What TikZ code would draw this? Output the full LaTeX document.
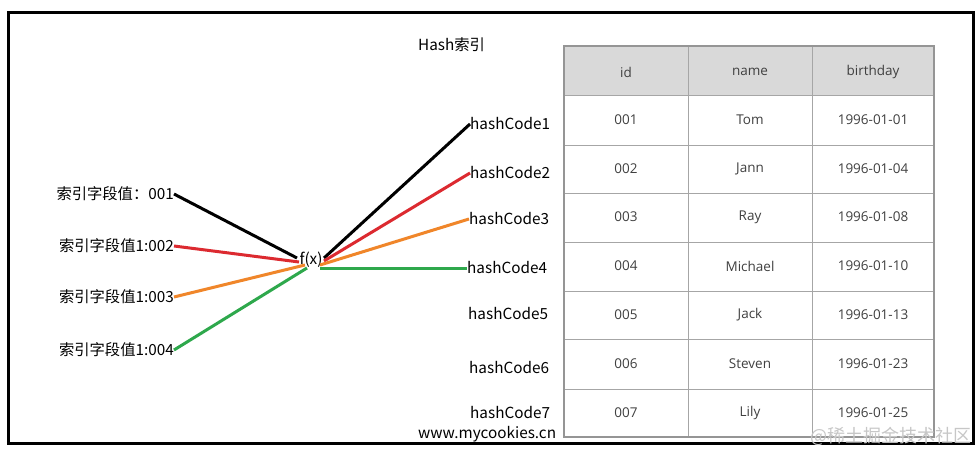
\documentclass[tikz,border=0pt]{standalone}
\usepackage{fontspec}
\newfontfamily\cjk{Noto Sans CJK SC}
\newfontfamily\tbl{Open Sans}
\definecolor{lred}{HTML}{DC2A30}
\definecolor{lorange}{HTML}{F0862A}
\definecolor{lgreen}{HTML}{2EA84C}
\definecolor{hdrgray}{HTML}{D9D9D9}
\definecolor{gridgray}{HTML}{A6A6A6}
\definecolor{celltxt}{HTML}{404040}
\tikzset{
  lbl/.style={inner sep=0pt, font=\cjk\fontsize{15.3}{18}\selectfont},
  cell/.style={inner sep=0pt, text=celltxt, font=\tbl\fontsize{13.5}{16}\selectfont},
  conn/.style={line width=3pt},
  grid/.style={draw=gridgray, line width=1pt},
}
\begin{document}
\begin{tikzpicture}[x=1pt,y=-1pt]
\useasboundingbox (0,0) rectangle (980,452);
\fill[white] (0,0) rectangle (980,452);
\draw[line width=3pt] (8.5,13) rectangle (973.5,443.5);

% table
\fill[hdrgray] (564,46) rectangle (934,95);
\foreach \y in {95,145,193,242,291,339,389}
  \draw[grid] (564,\y) -- (934,\y);
\draw[grid] (688,46) -- (688,437);
\draw[grid] (812,46) -- (812,437);
\draw[draw=gridgray!90!black, line width=1.8pt] (564,46) rectangle (934,437);

\node[cell] (h1) at (626,72) {id};
\node[cell] (h2) at (750,72) {name};
\node[cell] (h3) at (873,72) {birthday};
\foreach \i/\y/\n/\d in {1/120/Tom/1996-01-01, 2/169/Jann/1996-01-04, 3/217/Ray/1996-01-08, 4/266/Michael/1996-01-10, 5/315/Jack/1996-01-13, 6/364/Steven/1996-01-23, 7/413/Lily/1996-01-25}{
  \node[cell] (id\i) at (626,\y) {00\i};
  \node[cell] (nm\i) at (750,\y) {\n};
  \node[cell] (bd\i) at (873,\y) {\d};
}

% titles
\node[lbl, anchor=west] (title) at (418,45) {Hash索引};
\node[lbl, anchor=west] (site) at (418,434) {www.mycookies.cn};
\node[lbl, anchor=east, text=black!22, font=\cjk\fontsize{18}{20}\selectfont] (wm) at (972,436) {@稀土掘金技术社区};

% left keys
\node[lbl, anchor=east] (k1) at (174,194) {索引字段值：001};
\node[lbl, anchor=east] (k2) at (174,246) {索引字段值1:002};
\node[lbl, anchor=east] (k3) at (174,297) {索引字段值1:003};
\node[lbl, anchor=east] (k4) at (174,350) {索引字段值1:004};

% function
\node[lbl] (fx) at (311,260) {f(x)};
\coordinate (i1) at (297,258);
\coordinate (i2) at (299,262);
\coordinate (i3) at (305,265);
\coordinate (i4) at (307,268);
\coordinate (o1) at (324,258);
\coordinate (o2) at (324,261);
\coordinate (o3) at (320,265);
\coordinate (o4) at (320,268);

% hash codes
\node[lbl, anchor=west] (c1) at (470,124) {hashCode1};
\node[lbl, anchor=west] (c2) at (470,173) {hashCode2};
\node[lbl, anchor=west] (c3) at (469,219) {hashCode3};
\node[lbl, anchor=west] (c4) at (467,268) {hashCode4};
\node[lbl, anchor=west] (c5) at (468,314) {hashCode5};
\node[lbl, anchor=west] (c6) at (469,368) {hashCode6};
\node[lbl, anchor=west] (c7) at (470,413) {hashCode7};

% connectors
\draw[conn, black] (k1.east) -- (i1);
\draw[conn, lred] (k2.east) -- (i2);
\draw[conn, lorange] (k3.east) -- (i3);
\draw[conn, lgreen] (k4.east) -- (i4);
\draw[conn, black] (o1) -- (c1.west);
\draw[conn, lred] (o2) -- (c2.west);
\draw[conn, lorange] (o3) -- (c3.west);
\draw[conn, lgreen] (o4) -- (c4.west);
\end{tikzpicture}
\end{document}
